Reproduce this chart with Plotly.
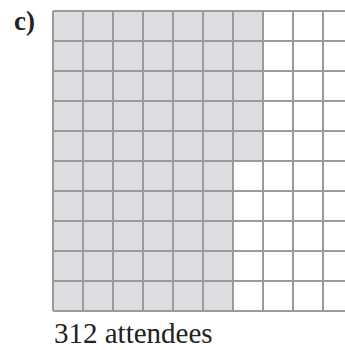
import plotly.graph_objects as go

# Data
n_rows = 10
n_cols = 10
shaded_per_row = [7, 7, 7, 7, 7, 6, 6, 6, 6, 6]  # top to bottom
panel_label = "c)"
caption = "312 attendees"

fill_color = "#dcdde0"
line_color = "#9b9b9b"

z = [[1 if c < shaded_per_row[r] else 0 for c in range(n_cols)] for r in range(n_rows)]

fig = go.Figure()
fig.add_trace(go.Heatmap(
    z=z,
    x=list(range(n_cols)),
    y=list(range(n_rows)),
    colorscale=[[0, "white"], [1, fill_color]],
    zmin=0, zmax=1,
    showscale=False,
    hoverinfo="skip",
))

# grid lines
gx, gy = [], []
for k in range(n_cols + 1):
    gx += [k - 0.5, k - 0.5, None]
    gy += [-0.5, n_rows - 0.5, None]
for k in range(n_rows + 1):
    gx += [-0.5, n_cols - 0.5, None]
    gy += [k - 0.5, k - 0.5, None]
fig.add_trace(go.Scatter(x=gx, y=gy, mode="lines",
                         line=dict(color=line_color, width=2),
                         hoverinfo="skip", showlegend=False))

W, H = 345, 350
ml, mt, mb = 52, 10, 38
cell = 30
pw = W - ml
ph = H - mt - mb
x0 = -0.5 - 1 / cell
y0 = -0.5 - 1 / cell

fig.update_layout(
    width=W, height=H,
    margin=dict(l=ml, r=0, t=mt, b=mb, pad=0),
    paper_bgcolor="white", plot_bgcolor="white",
    showlegend=False,
    xaxis=dict(range=[x0, x0 + pw / cell], showgrid=False, zeroline=False,
               showticklabels=False, ticks="", fixedrange=True),
    yaxis=dict(range=[y0 + ph / cell, y0], showgrid=False, zeroline=False,
               showticklabels=False, ticks="", fixedrange=True),
    annotations=[
        dict(text=caption, xref="paper", yref="paper",
             x=(52 - ml) / pw, y=(H - mb - 333) / ph,
             xanchor="left", yanchor="middle", showarrow=False,
             font=dict(family="Liberation Serif", size=29, color="#222222")),
        dict(text="<b>" + panel_label + "</b>", xref="paper", yref="paper",
             x=(12 - ml) / pw, y=(H - mb - 21) / ph,
             xanchor="left", yanchor="middle", showarrow=False,
             font=dict(family="Liberation Serif", size=27, color="#222222")),
    ],
)

fig.write_html("out.html", config={"displayModeBar": False},
               post_script="document.body.style.margin='0';document.body.style.overflow='hidden';")
